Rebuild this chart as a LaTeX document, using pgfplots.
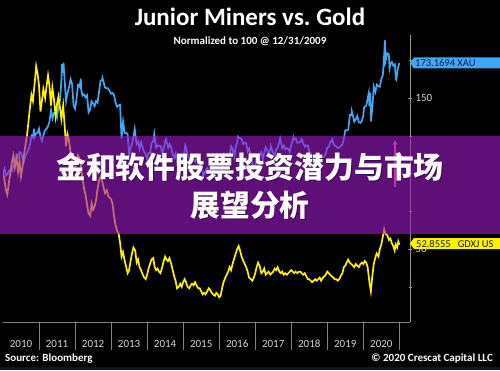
\documentclass[border=0pt]{standalone}
\usepackage{pgfplots}
\pgfplotsset{compat=1.18}
\usepackage{fontspec}
\setmainfont{Carlito}
\newfontfamily\cjk{Noto Sans CJK SC}
\definecolor{xau}{RGB}{64,168,245}
\definecolor{gdxj}{RGB}{255,242,0}
\definecolor{banner}{RGB}{158,25,200}
\definecolor{axolive}{RGB}{160,160,90}
\definecolor{axgray}{RGB}{130,130,130}
\definecolor{lbl}{RGB}{215,215,215}
\definecolor{tagtext}{RGB}{20,30,70}
\definecolor{arrowpink}{RGB}{255,90,150}
\definecolor{bottomstrip}{RGB}{10,18,45}

\begin{document}
\begin{tikzpicture}
\fill[black] (0pt,0pt) rectangle (500pt,370pt);
\useasboundingbox (0pt,0pt) rectangle (500pt,370pt);
\fill[bottomstrip] (0pt,0pt) rectangle (500pt,3pt);

\begin{axis}[
  at={(3pt,48pt)}, anchor=south west, scale only axis,
  width=407pt, height=287pt,
  xmin=2010, xmax=2021.296, ymin=1.66, ymax=191.7,
  axis x line*=bottom, axis y line*=right,
  x axis line style={axgray, -},
  y axis line style={axolive, -},
  xtick={2010.5,2011.5,2012.5,2013.5,2014.5,2015.5,2016.5,2017.5,2018.5,2019.5,2020.5},
  xticklabels={2010,2011,2012,2013,2014,2015,2016,2017,2018,2019,2020},
  xtick style={draw=none},
  xticklabel style={anchor=center, yshift=-19.7pt, text=lbl, font=\fontsize{11}{13}\selectfont},
  ytick={50,100,150},
  yticklabels={50,,150},
  minor ytick={25,75,125,175},
  tick align=center,
  major tick length=4pt, minor tick length=3pt,
  ytick style={axolive},
  yticklabel style={text=lbl, font=\fontsize{11}{13}\selectfont},
  clip=true,
]
\addplot[xau, line width=1.7pt, mark=none] coordinates {
(2010.000,100.0) (2010.042,103.1) (2010.083,98.6) (2010.125,99.5) (2010.167,101.8)
(2010.208,102.4) (2010.250,101.6) (2010.292,105.8) (2010.333,107.7) (2010.375,112.2)
(2010.417,110.7) (2010.458,114.1) (2010.500,113.5) (2010.542,109.9) (2010.583,107.8)
(2010.625,111.8) (2010.667,113.9) (2010.708,115.9) (2010.750,119.3) (2010.792,125.0)
(2010.833,124.0) (2010.860,129.7) (2010.875,124.1) (2010.917,126.5) (2010.958,126.8)
(2011.000,129.7) (2011.042,124.1) (2011.083,121.6) (2011.125,125.5) (2011.167,128.6)
(2011.208,129.6) (2011.250,131.3) (2011.292,134.6) (2011.333,142.0) (2011.375,136.4)
(2011.417,140.1) (2011.458,139.6) (2011.500,136.9) (2011.542,145.1) (2011.583,148.5)
(2011.625,163.3) (2011.640,172.4) (2011.667,166.6) (2011.680,173.4) (2011.708,162.4)
(2011.750,147.8) (2011.792,153.3) (2011.833,157.1) (2011.875,162.4) (2011.917,159.3)
(2011.958,145.1) (2012.000,142.9) (2012.042,149.6) (2012.083,158.6) (2012.125,157.4)
(2012.160,162.8) (2012.167,156.1) (2012.208,151.5) (2012.250,152.3) (2012.292,150.5)
(2012.333,151.8) (2012.375,140.5) (2012.417,142.3) (2012.458,147.8) (2012.500,146.4)
(2012.542,144.6) (2012.583,148.0) (2012.625,146.9) (2012.667,154.4) (2012.708,161.5)
(2012.750,161.8) (2012.760,163.3) (2012.833,156.8) (2012.875,156.5) (2012.917,156.3)
(2012.958,154.7) (2013.000,152.8) (2013.042,153.3) (2013.083,151.8) (2013.125,146.9)
(2013.167,144.1) (2013.208,145.1) (2013.250,145.5) (2013.290,123.2) (2013.333,134.3)
(2013.375,126.8) (2013.417,127.1) (2013.458,125.9) (2013.500,112.6) (2013.542,117.2)
(2013.583,119.7) (2013.625,125.0) (2013.655,129.6) (2013.667,127.4) (2013.708,119.5)
(2013.750,121.1) (2013.792,116.3) (2013.833,120.7) (2013.875,117.2) (2013.917,114.3)
(2013.958,112.7) (2014.000,109.7) (2014.042,113.6) (2014.083,113.5) (2014.125,120.4)
(2014.167,121.0) (2014.200,126.4) (2014.250,117.2) (2014.292,118.6) (2014.333,118.2)
(2014.375,118.2) (2014.417,113.7) (2014.458,116.3) (2014.500,121.1) (2014.525,122.7)
(2014.583,117.0) (2014.625,119.5) (2014.667,117.4) (2014.708,112.7) (2014.750,110.4)
(2014.792,113.1) (2014.833,106.8) (2014.855,104.0) (2014.917,107.8) (2014.958,109.5)
(2015.000,108.0) (2015.060,118.6) (2015.083,117.1) (2015.125,112.2) (2015.167,110.6)
(2015.208,105.4) (2015.250,107.9) (2015.292,109.5) (2015.333,108.0) (2015.375,111.3)
(2015.417,108.6) (2015.458,107.7) (2015.500,106.9) (2015.560,98.5) (2015.583,99.9)
(2015.625,101.7) (2015.667,103.5) (2015.708,101.3) (2015.750,101.7) (2015.792,108.1)
(2015.833,104.2) (2015.875,98.5) (2015.917,97.2) (2015.960,95.8) (2016.000,96.8)
(2016.042,99.5) (2016.083,102.0) (2016.125,113.1) (2016.167,113.0) (2016.208,112.7)
(2016.250,112.5) (2016.292,112.7) (2016.333,118.0) (2016.375,116.3) (2016.417,110.9)
(2016.458,117.7) (2016.500,120.6) (2016.515,124.5) (2016.583,123.3) (2016.625,122.7)
(2016.667,119.4) (2016.708,120.4) (2016.750,120.1) (2016.792,114.5) (2016.833,116.5)
(2016.875,111.8) (2016.917,107.0) (2016.958,103.1) (2017.000,105.1) (2017.042,109.5)
(2017.083,110.5) (2017.125,112.2) (2017.167,114.0) (2017.208,109.5) (2017.250,114.0)
(2017.292,117.2) (2017.333,115.7) (2017.375,112.2) (2017.417,115.8) (2017.430,118.2)
(2017.500,113.3) (2017.542,112.2) (2017.583,115.8) (2017.625,117.2) (2017.667,120.6)
(2017.690,123.2) (2017.750,116.8) (2017.792,118.6) (2017.833,116.0) (2017.875,116.8)
(2017.917,116.3) (2017.958,114.1) (2018.000,118.9) (2018.065,124.1) (2018.083,122.7)
(2018.125,123.2) (2018.167,120.3) (2018.208,120.4) (2018.250,120.9) (2018.292,122.7)
(2018.333,120.0) (2018.375,117.7) (2018.417,118.5) (2018.458,118.6) (2018.500,114.3)
(2018.542,113.1) (2018.583,111.7) (2018.625,107.2) (2018.667,109.7) (2018.708,109.5)
(2018.750,108.8) (2018.792,111.8) (2018.833,110.9) (2018.875,110.9) (2018.917,111.5)
(2018.958,113.1) (2019.000,117.0) (2019.042,117.7) (2019.083,120.5) (2019.140,122.7)
(2019.167,119.8) (2019.208,118.6) (2019.250,117.9) (2019.292,116.8) (2019.333,117.2)
(2019.375,118.2) (2019.417,119.1) (2019.458,122.7) (2019.500,128.6) (2019.542,128.6)
(2019.583,129.0) (2019.625,138.7) (2019.667,138.7) (2019.680,141.4) (2019.750,134.3)
(2019.792,135.9) (2019.833,138.0) (2019.875,134.1) (2019.917,133.6) (2019.958,134.6)
(2020.000,138.4) (2020.020,143.7) (2020.083,145.0) (2020.150,153.3) (2020.167,144.7)
(2020.190,153.3) (2020.215,134.6) (2020.250,143.9) (2020.292,157.4) (2020.333,153.9)
(2020.375,158.8) (2020.417,157.8) (2020.458,157.4) (2020.500,162.5) (2020.542,165.1)
(2020.583,180.2) (2020.600,188.2) (2020.615,174.3) (2020.667,179.6) (2020.708,178.8)
(2020.730,169.7) (2020.750,172.1) (2020.792,173.8) (2020.833,171.4) (2020.875,172.4)
(2020.905,162.4) (2020.917,162.0) (2020.958,169.7) (2021.000,173.2)
};
\addplot[gdxj, line width=1.7pt, mark=none] coordinates {
(2010.00,100) (2010.04,96) (2010.08,89) (2010.12,86) (2010.17,95) (2010.21,101)
(2010.25,108) (2010.29,112) (2010.33,104) (2010.38,110) (2010.42,101) (2010.46,108)
(2010.50,98) (2010.54,104) (2010.58,112) (2010.62,118) (2010.67,126) (2010.71,135)
(2010.75,144) (2010.79,152) (2010.83,148) (2010.88,160) (2010.92,171) (2010.96,166)
(2011.00,158) (2011.04,141) (2011.08,148) (2011.12,156) (2011.17,150) (2011.21,158)
(2011.25,165) (2011.29,158) (2011.33,145) (2011.37,157) (2011.42,148) (2011.46,138)
(2011.50,146) (2011.54,151) (2011.58,144) (2011.62,136) (2011.67,145) (2011.71,132)
(2011.75,118) (2011.79,126) (2011.83,122) (2011.88,113) (2011.92,108) (2011.96,104)
(2012.00,103) (2012.04,108) (2012.08,112) (2012.12,110) (2012.17,104) (2012.21,96)
(2012.25,90) (2012.29,86) (2012.33,80) (2012.37,74) (2012.42,72) (2012.46,80)
(2012.50,76) (2012.54,78) (2012.58,82) (2012.62,89) (2012.67,96) (2012.71,98)
(2012.75,95) (2012.79,91) (2012.83,87) (2012.88,89) (2012.92,85) (2012.96,84)
(2013.00,83) (2013.04,80) (2013.08,72) (2013.12,66) (2013.17,62) (2013.21,60)
(2013.25,54) (2013.29,45) (2013.33,48) (2013.37,43) (2013.42,38) (2013.46,34)
(2013.50,36) (2013.54,42) (2013.58,47) (2013.62,51) (2013.67,49) (2013.71,41)
(2013.75,43) (2013.79,38) (2013.83,36) (2013.88,33) (2013.92,31) (2013.96,30)
(2014.00,33) (2014.04,37) (2014.08,40) (2014.12,43) (2014.17,44) (2014.21,38)
(2014.25,36) (2014.29,37) (2014.33,35) (2014.37,34) (2014.42,38) (2014.46,42)
(2014.50,45) (2014.54,43) (2014.58,42) (2014.62,44) (2014.67,40) (2014.71,36)
(2014.75,32) (2014.79,29) (2014.83,24) (2014.88,25) (2014.92,27) (2014.96,25)
(2015.00,28) (2015.04,30) (2015.08,28) (2015.12,25) (2015.17,24) (2015.21,26)
(2015.25,27) (2015.29,26) (2015.33,28) (2015.37,26) (2015.42,24) (2015.46,24)
(2015.50,22) (2015.54,20) (2015.58,21) (2015.62,20) (2015.67,22) (2015.71,24)
(2015.75,23) (2015.79,21) (2015.83,20) (2015.88,19) (2015.92,21) (2015.96,20)
(2016.00,18) (2016.04,19) (2016.08,24) (2016.12,28) (2016.17,31) (2016.21,33)
(2016.25,35) (2016.29,38) (2016.33,36) (2016.37,40) (2016.42,44) (2016.46,47)
(2016.50,50) (2016.54,52) (2016.58,49) (2016.62,45) (2016.67,42) (2016.71,40)
(2016.75,38) (2016.79,35) (2016.83,31) (2016.88,30) (2016.92,29) (2016.96,31)
(2017.00,34) (2017.04,38) (2017.08,41) (2017.12,39) (2017.17,34) (2017.21,35)
(2017.25,37) (2017.29,33) (2017.33,34) (2017.37,35) (2017.42,33) (2017.46,34)
(2017.50,35) (2017.54,37) (2017.58,36) (2017.62,38) (2017.67,35) (2017.71,34)
(2017.75,35) (2017.79,33) (2017.83,34) (2017.88,33) (2017.92,34) (2017.96,35)
(2018.00,36) (2018.04,35) (2018.08,34) (2018.12,35) (2018.17,34) (2018.21,35)
(2018.25,35) (2018.29,34) (2018.33,33) (2018.37,34) (2018.42,32) (2018.46,30)
(2018.50,30) (2018.54,29) (2018.58,28) (2018.62,29) (2018.67,30) (2018.71,29)
(2018.75,30) (2018.79,31) (2018.83,29) (2018.88,31) (2018.92,32) (2018.96,33)
(2019.00,35) (2019.04,34) (2019.08,33) (2019.12,32) (2019.17,31) (2019.21,30)
(2019.25,30) (2019.29,29) (2019.33,30) (2019.37,32) (2019.42,34) (2019.46,38)
(2019.50,39) (2019.54,41) (2019.58,43) (2019.62,41) (2019.67,40) (2019.71,39)
(2019.75,38) (2019.79,40) (2019.83,39) (2019.88,38) (2019.92,40) (2019.96,41)
(2020.00,40) (2020.04,42) (2020.08,41) (2020.12,38) (2020.17,28) (2020.21,22)
(2020.25,32) (2020.29,40) (2020.33,44) (2020.37,47) (2020.42,45) (2020.46,50)
(2020.50,53) (2020.54,58) (2020.58,63) (2020.62,60) (2020.67,59) (2020.71,56)
(2020.75,57) (2020.79,54) (2020.83,52) (2020.87,49) (2020.90,53) (2020.94,51)
(2020.97,55) (2021.00,52.86)
};
\end{axis}

\begin{scope}[x=1pt,y=1pt]
% year separators
\foreach \k in {1,...,11} {
  \draw[axgray, line width=0.6pt] ({3+36.03*\k},48) -- ({3+36.03*\k},20);
}

% value tags
\fill[xau] (410,307) -- (414,312.5) -- (500,312.5) -- (500,301.5) -- (414,301.5) -- cycle;
\node[anchor=base west, text=tagtext, font=\fontsize{10.5}{12}\selectfont, inner sep=0pt] at (415,303.3) {173.1694 XAU};
\fill[gdxj] (410,126.5) -- (414,132) -- (500,132) -- (500,121) -- (414,121) -- cycle;
\node[anchor=base west, text=tagtext, font=\fontsize{10.5}{12}\selectfont, inner sep=0pt] at (416,122.8) {52.8555\hspace{7pt}GDXJ US};

% arrow under banner
\draw[arrowpink, line width=1.2pt, -stealth] (395,183) -- (395,230);

% banner
\fill[banner, opacity=0.6] (0,136) rectangle (500,234);
\node[anchor=base, text=black, opacity=0.35, font=\cjk\bfseries\fontsize{29.8}{34}\selectfont, inner sep=0pt] at (250.8,190.5) {金和软件股票投资潜力与市场};
\node[anchor=base, text=black, opacity=0.35, font=\cjk\bfseries\fontsize{29.8}{34}\selectfont, inner sep=0pt] at (250.8,152.5) {展望分析};
\node[anchor=base, text=white, font=\cjk\bfseries\fontsize{29.8}{34}\selectfont, inner sep=0pt] at (250,191.3) {金和软件股票投资潜力与市场};
\node[anchor=base, text=white, font=\cjk\bfseries\fontsize{29.8}{34}\selectfont, inner sep=0pt] at (250,153.3) {展望分析};

% titles
\node[anchor=base, text=white, font=\bfseries\fontsize{25}{30}\selectfont, inner sep=0pt] at (250,344) {Junior Miners vs.\ Gold};
\node[anchor=base, text=white, font=\bfseries\fontsize{11}{13}\selectfont, inner sep=0pt] at (250,325) {Normalized to 100 @ 12/31/2009};

% footer
\node[anchor=base west, text=white, font=\bfseries\fontsize{11}{13}\selectfont, inner sep=0pt] at (5,9) {Source: Bloomberg};
\node[anchor=base east, text=white, font=\bfseries\fontsize{11}{13}\selectfont, inner sep=0pt] at (493,9) {© 2020 Crescat Capital LLC};
\end{scope}
\end{tikzpicture}
\end{document}
